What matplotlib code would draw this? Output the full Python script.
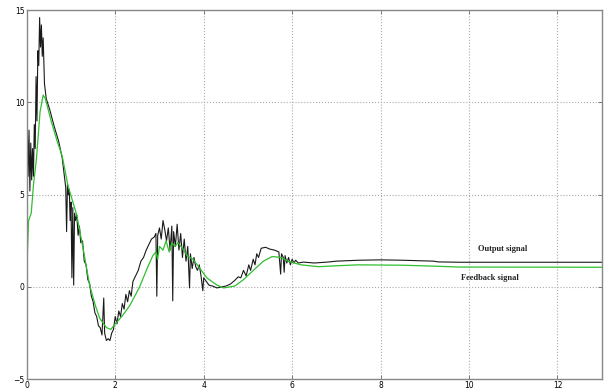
import matplotlib.pyplot as plt

# output signal (black), hand-read samples
out_t = [0.00, 0.01, 0.03, 0.05, 0.07, 0.09, 0.11, 0.13, 0.15, 0.17, 0.19, 0.21, 0.23, 0.25,
         0.27, 0.29, 0.31, 0.33, 0.35, 0.37, 0.40, 0.44, 0.52, 0.62, 0.72, 0.80, 0.84, 0.88,
         0.90, 0.92, 0.94, 0.96, 0.98, 1.00, 1.02, 1.04, 1.06, 1.08, 1.10, 1.13, 1.16, 1.19,
         1.22, 1.26, 1.30, 1.34, 1.38, 1.42, 1.46, 1.50, 1.54, 1.58, 1.62, 1.66, 1.70, 1.74,
         1.76, 1.80, 1.84, 1.88, 1.92, 1.96, 2.00, 2.04, 2.08, 2.12, 2.16, 2.20, 2.24, 2.28,
         2.32, 2.36, 2.40, 2.46, 2.52, 2.58, 2.64, 2.70, 2.76, 2.82, 2.88, 2.92, 2.94, 2.96,
         3.00, 3.04, 3.08, 3.12, 3.16, 3.20, 3.24, 3.28, 3.30, 3.32, 3.36, 3.40, 3.44, 3.48,
         3.52, 3.56, 3.60, 3.64, 3.68, 3.70, 3.74, 3.78, 3.82, 3.86, 3.90, 3.94, 3.98, 4.00,
         4.06, 4.12, 4.20, 4.30, 4.40, 4.50, 4.60, 4.70, 4.78, 4.84, 4.90, 4.96, 5.02, 5.06,
         5.12, 5.16, 5.20, 5.24, 5.30, 5.40, 5.50, 5.60, 5.70, 5.74, 5.76, 5.80, 5.82, 5.84,
         5.88, 5.92, 5.96, 6.00, 6.04, 6.08, 6.14, 6.25, 6.50, 6.80, 7.00, 7.50, 8.00, 8.50,
         9.20, 9.30, 9.80, 13.0]
out_v = [0.0, 9.0, 6.0, 8.5, 5.2, 7.8, 5.8, 7.5, 6.0, 8.8, 7.5, 11.4, 9.0, 12.8,
         12.0, 14.6, 13.0, 14.2, 12.5, 13.5, 11.0, 10.2, 9.6, 8.7, 7.9, 7.0, 6.2, 5.4,
         3.0, 5.6, 5.0, 5.3, 3.6, 4.6, 0.5, 4.3, 0.1, 4.0, 3.6, 3.9, 2.8, 3.3,
         2.4, 2.5, 1.4, 1.2, 0.4, 0.2, -0.5, -0.8, -1.4, -1.6, -2.1, -2.2, -2.6, -0.6,
         -2.5, -2.9, -2.8, -2.9, -2.5, -2.3, -1.6, -2.0, -1.3, -1.6, -0.9, -1.2, -0.4, -0.8,
         -0.2, -0.5, 0.3, 0.6, 0.9, 1.4, 1.6, 2.0, 2.3, 2.6, 2.7, 2.9, -0.5, 2.8,
         3.2, 2.6, 3.6, 3.1, 2.5, 3.2, 2.0, 3.3, -0.75, 3.0, 2.2, 3.4, 2.0, 2.9,
         1.6, 2.6, 1.4, 2.2, -0.05, 1.8, 1.0, 1.6, 1.1, 0.9, 1.2, 0.6, -0.2, 0.5,
         0.3, 0.1, 0.05, -0.05, 0.0, 0.05, 0.15, 0.35, 0.55, 0.5, 0.9, 0.6, 1.2, 0.9,
         1.5, 1.2, 1.8, 1.6, 2.1, 2.15, 2.05, 2.0, 1.9, 0.7, 1.8, 1.6, 0.8, 1.7,
         1.3, 1.6, 1.2, 1.5, 1.3, 1.45, 1.3, 1.35, 1.3, 1.35, 1.4, 1.45, 1.47, 1.45,
         1.4, 1.36, 1.34, 1.34]

# feedback signal (green)
fb_t = [0.00, 0.01, 0.04, 0.10, 0.15, 0.22, 0.30, 0.37, 0.42, 0.55, 0.70, 0.80, 0.93,
        1.13, 1.28, 1.42, 1.55, 1.65, 1.80, 1.90, 2.00, 2.15, 2.33, 2.55, 2.72, 2.85,
        2.92, 2.96, 3.00, 3.08, 3.15, 3.22, 3.28, 3.35, 3.42, 3.55, 3.62, 3.76, 4.07,
        4.30, 4.45, 4.70, 4.90, 5.10, 5.35, 5.55, 5.75, 5.90, 6.20, 6.60, 7.00, 7.50,
        8.50, 9.20, 9.80, 13.0]
fb_v = [0.0, 1.6, 3.6, 4.0, 5.5, 7.0, 9.5, 10.4, 10.2, 9.0, 7.8, 7.1, 5.5,
        3.9, 2.0, 0.1, -1.0, -1.7, -2.2, -2.3, -2.0, -1.6, -1.0, 0.0, 1.0, 1.7,
        1.9, 1.5, 2.2, 2.0, 2.5, 1.9, 2.4, 2.2, 2.4, 2.0, 1.7, 1.5, 0.5,
        0.1, -0.05, 0.05, 0.4, 0.85, 1.4, 1.65, 1.6, 1.4, 1.2, 1.1, 1.15, 1.2,
        1.18, 1.13, 1.08, 1.07]

x_ticks = [0, 2, 4, 6, 8, 10, 12]
y_ticks = [-5, 0, 5, 10, 15]

fig = plt.figure(figsize=(6.09, 3.91), dpi=100)
ax = fig.add_axes([0.044, 0.03, 0.944, 0.944])

ax.plot(out_t, out_v, color='#1a1a1a', lw=0.8)
ax.plot(fb_t, fb_v, color='#2fbf2f', lw=0.9)

ax.set_xlim(0, 13)
ax.set_ylim(-5, 15)
ax.set_xticks(x_ticks)
ax.set_yticks(y_ticks)
ax.grid(True, color='#aaaaaa', linestyle=':', linewidth=0.8)
ax.tick_params(direction='in', length=3, width=0.7, color='#777777',
               labelsize=5.5, pad=1.5, top=True, right=True)
for s in ax.spines.values():
    s.set_color('#888888')
    s.set_linewidth(1.0)

ax.text(10.77, 2.05, 'Output signal', fontsize=6, family='Liberation Serif',
        fontweight='bold', color='#222222', ha='center', va='center')
ax.text(10.47, 0.48, 'Feedback signal', fontsize=6, family='Liberation Serif',
        fontweight='bold', color='#222222', ha='center', va='center')

plt.savefig('out.png', dpi=100)
plt.close()
